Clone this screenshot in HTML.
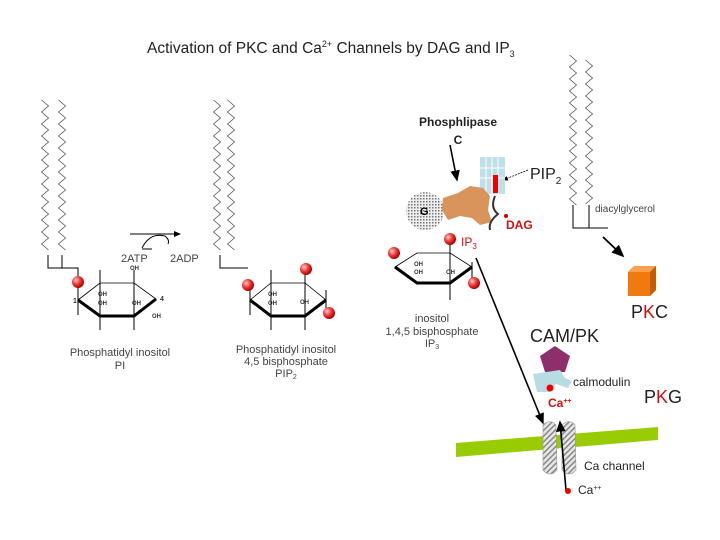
<!DOCTYPE html>
<html><head><meta charset="utf-8"><style>
html,body{margin:0;padding:0;background:#fff;}
svg{display:block;font-family:"Liberation Sans",sans-serif;}
</style></head><body>
<svg id="s" width="720" height="540" viewBox="0 0 720 540" xmlns="http://www.w3.org/2000/svg">
<defs>
<radialGradient id="ball" cx="35%" cy="35%" r="65%"><stop offset="0" stop-color="#ffd0d0"/><stop offset="0.5" stop-color="#f04040"/><stop offset="1" stop-color="#b00000"/></radialGradient>
<pattern id="hatch" width="3" height="3" patternUnits="userSpaceOnUse"><rect width="3" height="3" fill="#eee"/><rect width="1.5" height="1.5" fill="#777"/></pattern>
<pattern id="hatch2" width="4" height="4" patternUnits="userSpaceOnUse" patternTransform="rotate(45)"><rect width="4" height="4" fill="#e6e6e6"/><rect width="1.5" height="4" fill="#888"/></pattern>
<marker id="ah" markerWidth="8" markerHeight="8" refX="6" refY="3" orient="auto"><path d="M0,0 L7,3 L0,6 z" fill="#000"/></marker>
</defs>
<text x="147" y="53" font-size="15.5" fill="#222">Activation of PKC and Ca<tspan font-size="9" dy="-6">2+</tspan><tspan dy="6"> Channels by DAG and IP</tspan><tspan font-size="9" dy="4">3</tspan></text>
<g id="chains" fill="none" stroke="#555" stroke-width="0.8"></g>
<g stroke="#000" stroke-width="1" fill="none">
<polyline points="48,255 48,268 78,268 78,300"/><line x1="62" y1="255" x2="62" y2="268"/>
<polygon points="78,300 100,283 134,283 156,299 134,316 100,316" stroke-width="0.8"/>
<polyline points="78,300 100,316 134,316 156,299" stroke-width="3"/>
<line x1="100" y1="270" x2="100" y2="330"/><line x1="134" y1="270" x2="134" y2="330"/><line x1="78" y1="300" x2="78" y2="315"/>
<polyline points="220,255 220,268 248,268"/>
<polygon points="250,300 271,283 305,283 326,300 305,316 271,316" stroke-width="0.8"/>
<polyline points="250,300 271,316 305,316 326,300" stroke-width="3"/>
<line x1="271" y1="270" x2="271" y2="330"/><line x1="305" y1="270" x2="305" y2="330"/><line x1="250" y1="285" x2="250" y2="315"/><line x1="326" y1="290" x2="326" y2="310"/>
<line x1="130" y1="234" x2="180" y2="234" marker-end="url(#ah)"/>
<path d="M142,248 Q150,232 165,236 Q170,240 168,244"/>
<line x1="142" y1="249" x2="152" y2="249"/>
<polygon points="395,267 417,253 450,253 472,267 450,283 417,283" stroke-width="0.8"/>
<polyline points="395,267 417,283 450,283 472,267" stroke-width="3"/>
<line x1="450" y1="243" x2="450" y2="300"/><line x1="472" y1="262" x2="472" y2="283"/>
<polyline points="573,205 573,228 608,228"/><line x1="589" y1="205" x2="589" y2="228"/>
<line x1="603" y1="237" x2="623" y2="256" stroke-width="1.8" marker-end="url(#ah)"/>
<line x1="450" y1="145" x2="457" y2="180" stroke-width="1.6" marker-end="url(#ah)"/>
<line x1="528" y1="170" x2="503" y2="180" stroke-width="0.8" stroke-dasharray="2,1" marker-end="url(#ah)"/>
<line x1="476" y1="258" x2="543" y2="423" stroke-width="1.6" marker-end="url(#ah)"/>
</g>
<g font-size="6" font-weight="bold" fill="#333">
<text x="130" y="270">OH</text><text x="98" y="296">OH</text><text x="98" y="305">OH</text><text x="132" y="305">OH</text><text x="152" y="318">OH</text>
<text x="73" y="303" font-size="7">1</text><text x="160" y="301" font-size="7">4</text>
<text x="268" y="296">OH</text><text x="268" y="305">OH</text><text x="300" y="304">OH</text>
<text x="414" y="266">OH</text><text x="414" y="274">OH</text><text x="446" y="274">OH</text>
</g>
<g font-size="11" fill="#444">
<text x="121" y="262">2ATP</text><text x="170" y="262">2ADP</text>
<text x="120" y="356" text-anchor="middle">Phosphatidyl inositol</text><text x="120" y="369" text-anchor="middle">PI</text>
<text x="286" y="353" text-anchor="middle">Phosphatidyl inositol</text><text x="286" y="365" text-anchor="middle">4,5 bisphosphate</text><text x="286" y="377" text-anchor="middle">PIP<tspan font-size="7" dy="2">2</tspan></text>
<text x="432" y="322" text-anchor="middle">inositol</text><text x="432" y="335" text-anchor="middle">1,4,5 bisphosphate</text><text x="432" y="347" text-anchor="middle">IP<tspan font-size="7" dy="2">3</tspan></text>
<text x="595" y="212" font-size="10">diacylglycerol</text>
</g>
<g fill="url(#ball)"><circle cx="78" cy="282" r="6"/><circle cx="248" cy="285" r="6"/><circle cx="306" cy="269" r="6"/><circle cx="329" cy="313" r="6"/><circle cx="450" cy="239" r="6"/><circle cx="394" cy="253" r="6"/><circle cx="474" cy="283" r="6"/></g>
<text x="458" y="126" font-size="12" font-weight="bold" text-anchor="middle" fill="#222">Phosphlipase</text>
<text x="458" y="144" font-size="12" font-weight="bold" text-anchor="middle" fill="#222">C</text>
<text x="530" y="179" font-size="16" fill="#222">PIP<tspan font-size="10" dy="5">2</tspan></text>
<rect x="480" y="157" width="25" height="37" fill="#bfe0e8"/>
<g stroke="#fff" stroke-width="1"><line x1="486" y1="157" x2="486" y2="194"/><line x1="492" y1="157" x2="492" y2="194"/><line x1="498" y1="157" x2="498" y2="194"/><line x1="480" y1="168" x2="505" y2="168"/><line x1="480" y1="178" x2="505" y2="178"/></g>
<rect x="493" y="175" width="5" height="18" fill="#e00"/>
<circle cx="425" cy="211" r="19" fill="url(#hatch)"/>
<text x="420" y="215" font-size="11" font-weight="bold">G</text>
<path d="M443,198 L458,193 L470,186 L483,188 L490,196 L488,210 L492,222 L480,225 L472,218 L460,216 L448,220 L442,210 z" fill="#d8945a"/>
<path d="M495,196 Q490,208 498,214 Q488,222 490,230" stroke="#333" stroke-width="2" fill="none"/>
<circle cx="506" cy="216" r="2" fill="#c00"/>
<text x="506" y="229" font-size="12" font-weight="bold" fill="#d01010">DAG</text>
<text x="461" y="246" font-size="12" fill="#d01010">IP<tspan font-size="8" dy="3">3</tspan></text>
<polygon points="628,272 634,266 656,266 656,290 650,296 628,296" fill="#f07a10"/>
<polygon points="628,272 634,266 656,266 650,272" fill="#f8a050"/>
<polygon points="650,272 656,266 656,290 650,296" fill="#c85a00"/>
<text x="631" y="318" font-size="18" fill="#222">P<tspan fill="#d01010">K</tspan>C</text>
<text x="530" y="342" font-size="18" fill="#222">CAM/PK</text>
<polygon points="555,346 570,356 565,372 545,372 540,356" fill="#8e2f6c"/>
<path d="M533,374 L560,370 L565,378 L572,381 L568,388 L556,384 L550,392 L537,392 z" fill="#b8dce4"/>
<circle cx="550" cy="388" r="3.5" fill="#e00"/>
<text x="573" y="386" font-size="12" fill="#222">calmodulin</text>
<text x="548" y="407" font-size="12" font-weight="bold" fill="#d01010">Ca<tspan font-size="7" dy="-4">++</tspan></text>
<text x="644" y="403" font-size="18" fill="#222">P<tspan fill="#d01010">K</tspan>G</text>
<polygon points="456,443 658,427 658,440 456,457" fill="#99cc00"/>
<path d="M543,425 Q550,418 556,425 L557,470 Q550,478 543,470 z" fill="url(#hatch2)" stroke="#999" stroke-width="0.6"/>
<path d="M562,425 Q569,418 575,425 L576,470 Q569,478 562,470 z" fill="url(#hatch2)" stroke="#999" stroke-width="0.6"/>
<line x1="566" y1="490" x2="560" y2="422" stroke="#000" stroke-width="1.6" marker-end="url(#ah)"/>
<text x="584" y="470" font-size="12" fill="#222">Ca channel</text>
<circle cx="568" cy="491" r="3" fill="#e00"/>
<text x="578" y="494" font-size="12" fill="#222">Ca<tspan font-size="7" dy="-4">++</tspan></text>
</svg>
<script>
var g=document.getElementById('chains');
function zz(x,y0,y1){var p=[],i=0;for(var y=y0;y<=y1;y+=6){p.push((x+(i%2?3.5:-3.5))+','+y);i++;}var e=document.createElementNS('http://www.w3.org/2000/svg','polyline');e.setAttribute('points',p.join(' '));g.appendChild(e);}
zz(45,100,255);zz(62,100,255);zz(217,100,255);zz(231,100,255);zz(573,55,205);zz(589,60,205);
</script>
</body></html>
